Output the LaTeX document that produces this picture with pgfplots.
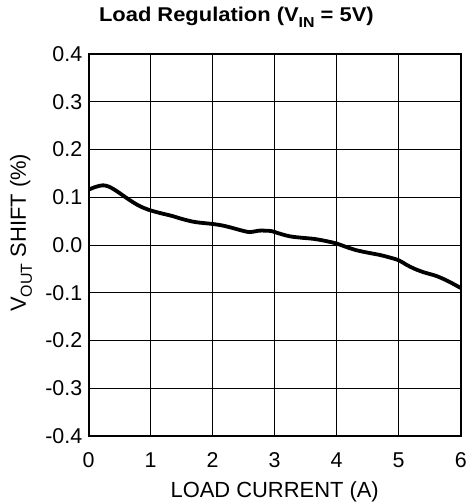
\documentclass[border=0pt]{standalone}
\usepackage{fontspec}
\setmainfont{Liberation Sans}
\usepackage{pgfplots}
\pgfplotsset{compat=1.18}
\begin{document}
\begin{tikzpicture}
\begin{axis}[
  name=ax,
  at={(0,0)}, anchor=south west,
  scale only axis,
  width=372bp, height=382bp,
  xmin=0, xmax=6, ymin=-0.4, ymax=0.4,
  xtick={0,1,2,3,4,5,6},
  ytick={-0.4,-0.3,-0.2,-0.1,0,0.1,0.2,0.3,0.4},
  yticklabels={-0.4,-0.3,-0.2,-0.1,0.0,0.1,0.2,0.3,0.4},
  /pgf/number format/assume math mode=true,
  grid=major,
  major grid style={black, line width=0.9bp},
  axis line style={black, line width=1.6bp},
  major tick length=0pt,
  tick label style={font=\fontsize{21.5}{23}\selectfont},
  xticklabel style={anchor=base, yshift=-31bp},
  yticklabel style={xshift=-3bp},
  xlabel={LOAD CURRENT (A)},
  xlabel style={font=\fontsize{22}{24}\selectfont, at={(axis description cs:0.5,-0.1597)}, anchor=base},
  ylabel={V\raisebox{-0.28em}{\fontsize{16}{16}\selectfont OUT} SHIFT (\%)},
  ylabel style={font=\fontsize{22}{24}\selectfont, at={(axis description cs:-0.182,0.532)}, anchor=center, rotate=0},
  title={\addfontfeature{FakeStretch=1.1}\bfseries Load Regulation (V\raisebox{-0.28em}{\fontsize{14.5}{14.5}\selectfont IN} = 5V)},
  title style={font=\fontsize{20}{22}\selectfont, at={(axis description cs:0.397,1.0689)}, anchor=base},
  clip=false,
]
\addplot[black, line width=3.8bp, smooth, tension=0.55] coordinates {
(0,0.116)(0.12,0.122)(0.23,0.125)(0.33,0.122)(0.45,0.113)(0.55,0.104)(0.65,0.095)(0.8,0.083)(0.96,0.074)(1.15,0.067)(1.34,0.061)(1.52,0.054)(1.72,0.048)(2.0,0.044)(2.15,0.041)(2.31,0.036)(2.45,0.031)(2.60,0.027)(2.74,0.030)(2.85,0.030)(2.95,0.029)(3.1,0.023)(3.25,0.018)(3.45,0.015)(3.62,0.013)(3.8,0.009)(4.0,0.003)(4.15,-0.004)(4.32,-0.011)(4.5,-0.016)(4.70,-0.021)(4.85,-0.026)(5.0,-0.032)(5.12,-0.041)(5.24,-0.049)(5.4,-0.057)(5.61,-0.065)(5.8,-0.076)(6.0,-0.090)
};
\addplot[black, line width=2.2bp] coordinates {(0,-0.4)(0.55,-0.4)};
\end{axis}
\pgfresetboundingbox
\path ([shift={(-88.7bp,-68bp)}]ax.south west) rectangle ([shift={(7.3bp,54bp)}]ax.north east);
\end{tikzpicture}
\end{document}
